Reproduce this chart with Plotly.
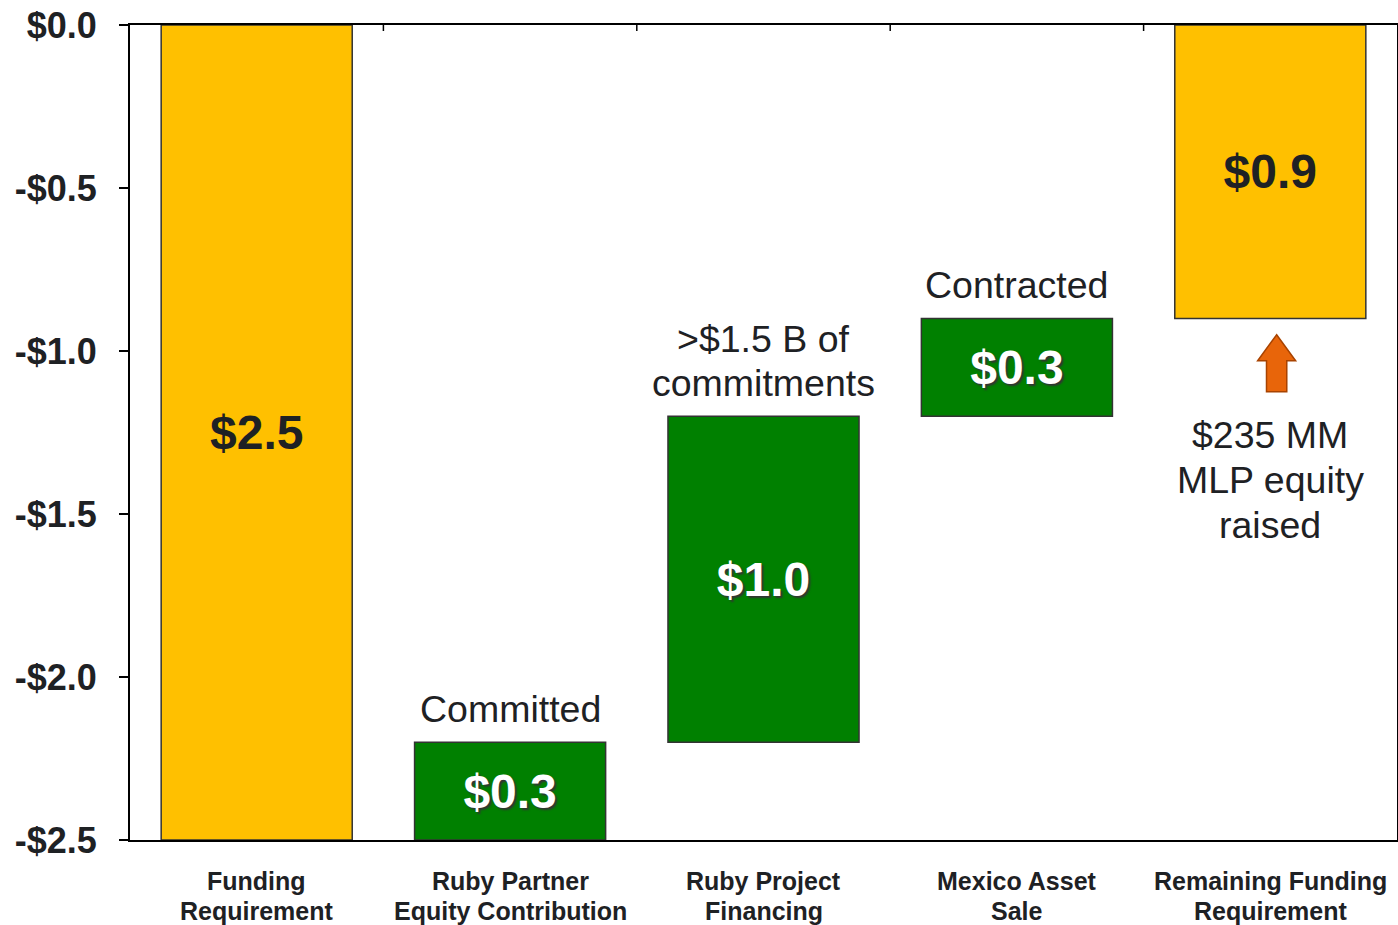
import plotly.graph_objects as go

categories = ["Funding<br>Requirement", "Ruby Partner<br>Equity Contribution",
              "Ruby Project<br>Financing", "Mexico Asset<br>Sale",
              "Remaining Funding<br>Requirement"]
bar_base = [-2.5, -2.5, -2.2, -1.2, -0.9]
bar_height = [2.5, 0.3, 1.0, 0.3, 0.9]
bar_labels = ["$2.5", "$0.3", "$1.0", "$0.3", "$0.9"]
bar_kind = ["gold", "green", "green", "green", "gold"]
notes = {1: "Committed", 2: ">$1.5 B of<br>commitments", 3: "Contracted"}
y_ticks = [0, -0.5, -1.0, -1.5, -2.0, -2.5]
y_ticktext = ["$0.0", "-$0.5", "-$1.0", "-$1.5", "-$2.0", "-$2.5"]

FONT = "Liberation Sans, Arial, sans-serif"
DARK = "#1e2124"
GOLD = "#FFC000"
GREEN = "#008000"
WIDTH = 0.754

fig = go.Figure()
xs = list(range(len(categories)))
for kind, color, tcolor, shadow in [("gold", GOLD, DARK, "none"),
                                    ("green", GREEN, "white", "2px 2px 2px #333")]:
    idx = [i for i in xs if bar_kind[i] == kind]
    fig.add_trace(go.Bar(
        x=[xs[i] for i in idx],
        y=[bar_height[i] for i in idx],
        base=[bar_base[i] for i in idx],
        width=WIDTH,
        marker=dict(color=color, line=dict(color="#333333", width=1.5)),
        text=[bar_labels[i] for i in idx],
        textposition="inside",
        insidetextanchor="middle",
        constraintext="none",
        textangle=0,
        textfont=dict(family=FONT, size=48, color=tcolor, weight="bold", shadow=shadow),
        hoverinfo="skip",
        showlegend=False,
    ))

annotations = []


def stacked(x, y, text, first_shift, step, size, bold=False, xref="x", yref="y"):
    """Place a multi-line text as one annotation per line with fixed spacing."""
    for j, line in enumerate(text.split("<br>")):
        annotations.append(dict(
            x=x, y=y, xref=xref, yref=yref, text=line, showarrow=False,
            yanchor="middle", xanchor="center", yshift=first_shift - j * step,
            font=dict(family=FONT, size=size, color=DARK,
                      weight="bold" if bold else "normal")))


# notes above green bars (last line sits ~33 px above the bar top)
for i, txt in notes.items():
    n = len(txt.split("<br>"))
    stacked(xs[i], bar_base[i] + bar_height[i], txt, 33 + (n - 1) * 44.5, 44.5, 37.5)

# remaining funding note + arrow
last = len(categories) - 1
top_of_last = bar_base[last]
stacked(xs[last], top_of_last, "$235 MM<br>MLP equity<br>raised", -117, 45, 37.5)

ax = xs[last] + 0.025
tip = top_of_last - 0.05
neck = tip - 0.08
foot = tip - 0.175
hw, sw = 0.075, 0.04
arrow_path = (f"M {ax} {tip} L {ax+hw} {neck} L {ax+sw} {neck} L {ax+sw} {foot} "
              f"L {ax-sw} {foot} L {ax-sw} {neck} L {ax-hw} {neck} Z")
shapes = [dict(type="path", path=arrow_path, xref="x", yref="y",
               fillcolor="#E8650A", line=dict(color="#A84300", width=1.5))]

# category labels under the axis
for i, cat in enumerate(categories):
    stacked(xs[i], 0, cat, -41, 30, 25, bold=True, xref="x", yref="paper")

# top-axis tick marks at category boundaries
for k in range(len(categories) - 1):
    shapes.append(dict(type="line", xref="x", yref="paper",
                       x0=k + 0.5, x1=k + 0.5, y0=1, y1=1 - 6 / 815,
                       line=dict(color="black", width=1.5)))

fig.update_layout(
    width=1398, height=925,
    margin=dict(l=130, r=1, t=25, b=85),
    plot_bgcolor="white", paper_bgcolor="white",
    bargap=1 - WIDTH,
    annotations=annotations,
    shapes=shapes,
    xaxis=dict(range=[-0.5, len(categories) - 0.5], tickvals=xs,
               showticklabels=False,
               ticks="", showline=True, linecolor="black", linewidth=2, mirror=True,
               showgrid=False, zeroline=False, automargin=False),
    yaxis=dict(range=[-2.5, 0], tickvals=y_ticks, ticktext=y_ticktext,
               ticks="outside", ticklen=9, tickwidth=2, tickcolor="black",
               showline=True, linecolor="black", linewidth=2, mirror=True,
               showgrid=False, zeroline=False, ticklabelstandoff=15, automargin=False,
               tickfont=dict(family=FONT, size=36, color=DARK, weight="bold")),
)

fig.write_html("out.html")
